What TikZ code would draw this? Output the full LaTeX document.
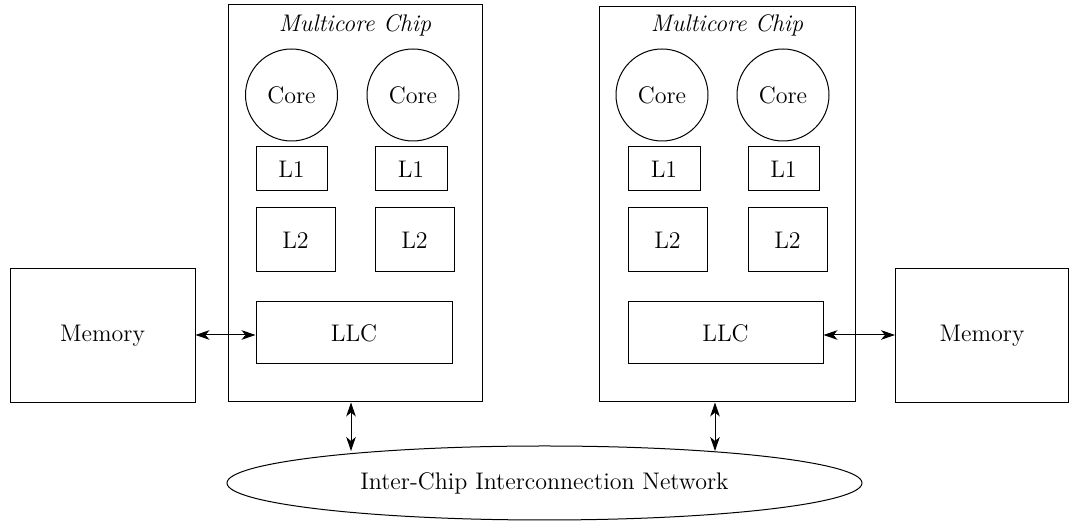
\documentclass[tikz,border=0pt]{standalone}
\usetikzlibrary{arrows.meta,shapes.geometric}
\begin{document}
\begin{tikzpicture}[x=0.5pt,y=-0.5pt,
  every node/.style={font=\rmfamily\fontsize{12}{14}\selectfont, line width=0.5pt},
  box/.style={draw, rectangle, inner sep=0pt},
  core/.style={draw, circle, inner sep=0pt, minimum size=46pt},
  arr/.style={line width=0.5pt, {Stealth[length=7pt,width=4.8pt,inset=2pt]}-{Stealth[length=7pt,width=4.8pt,inset=2pt]}}]
\useasboundingbox (0,0) rectangle (1072,522);
% chips
\node[box, minimum width=127pt, minimum height=198.5pt] (chipL) at (355,203.5) {};
\node[box, minimum width=128pt, minimum height=197.5pt] (chipR) at (727,204.5) {};
\node (titleL) at (355,25) {\itshape Multicore Chip};
\node (titleR) at (727,25) {\itshape Multicore Chip};
% cores
\node[core] (cL1) at (291.5,95) {Core};
\node[core] (cL2) at (413,95) {Core};
\node[core] (cR1) at (662,95) {Core};
\node[core] (cR2) at (783,95) {Core};
% L1
\node[box, minimum width=35.5pt, minimum height=22pt] (l1L1) at (291.5,169) {L1};
\node[box, minimum width=36pt, minimum height=22pt] (l1L2) at (411,169) {L1};
\node[box, minimum width=36pt, minimum height=22pt] (l1R1) at (664,169) {L1};
\node[box, minimum width=35.5pt, minimum height=22pt] (l1R2) at (783.5,169) {L1};
% L2
\node[box, minimum width=39.5pt, minimum height=32pt] (l2L1) at (295.5,240) {L2};
\node[box, minimum width=39.5pt, minimum height=32pt] (l2L2) at (414.5,240) {L2};
\node[box, minimum width=39.5pt, minimum height=32pt] (l2R1) at (667.5,240) {L2};
\node[box, minimum width=39.5pt, minimum height=32pt] (l2R2) at (787.5,240) {L2};
% LLC
\node[box, minimum width=98pt, minimum height=31pt] (llcL) at (354,333) {LLC};
\node[box, minimum width=97.5pt, minimum height=31pt] (llcR) at (725.5,333) {LLC};
% memories
\node[box, minimum width=92.5pt, minimum height=67pt] (memL) at (102.5,336) {Memory};
\node[box, minimum width=86.5pt, minimum height=67pt] (memR) at (982,336) {Memory};
% network
\node[draw, ellipse, inner sep=0pt, minimum width=317.5pt, minimum height=37pt] (net) at (544.5,483) {Inter-Chip Interconnection Network};
% connectors
\draw[arr] (llcL.west |- 0,335) -- (memL.east |- 0,335);
\draw[arr] (llcR.east |- 0,335) -- (memR.west |- 0,335);
\coordinate (aL) at (351,451);
\coordinate (aR) at (715,451);
\draw[arr] (chipL.south -| aL) -- (aL);
\draw[arr] (chipR.south -| aR) -- (aR);
\end{tikzpicture}
\end{document}
